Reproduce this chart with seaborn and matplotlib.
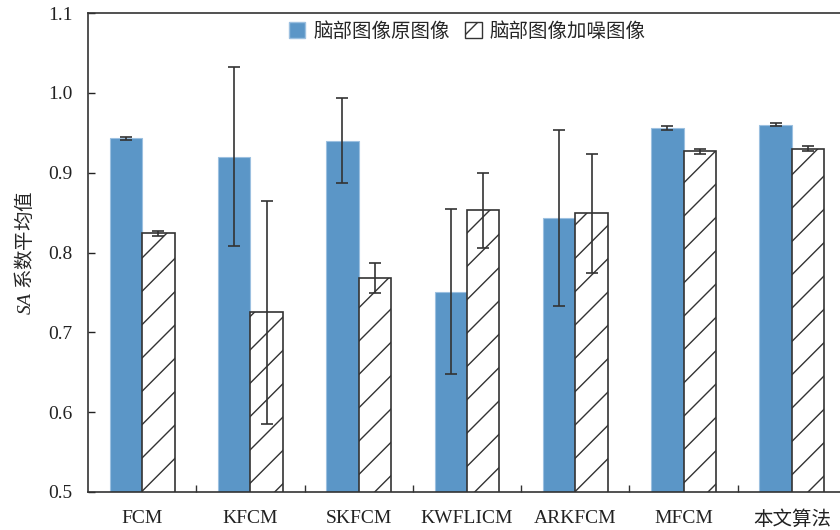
import matplotlib
matplotlib.use("Agg")
import matplotlib.pyplot as plt
import seaborn as sns
import pandas as pd
import numpy as np

# Segmentation accuracy (SA) on brain images, original vs. noisy
methods = ["FCM", "KFCM", "SKFCM", "KWFLICM", "ARKFCM", "MFCM", "本文算法"]
series_names = ["脑部图像原图像", "脑部图像加噪图像"]
sa_original = [0.943, 0.920, 0.940, 0.751, 0.843, 0.956, 0.960]
sa_original_err = [0.002, 0.112, 0.053, 0.103, 0.110, 0.002, 0.002]
sa_noisy = [0.824, 0.725, 0.768, 0.853, 0.849, 0.927, 0.930]
sa_noisy_err = [0.003, 0.140, 0.019, 0.047, 0.075, 0.003, 0.003]
y_ticks = [0.5, 0.6, 0.7, 0.8, 0.9, 1.0, 1.1]

sns.set_theme(style="white")
plt.rcParams["font.family"] = ["Liberation Serif", "Noto Sans CJK SC"]
plt.rcParams["mathtext.fontset"] = "custom"
plt.rcParams["mathtext.it"] = "Liberation Serif:italic"
plt.rcParams["mathtext.rm"] = "Liberation Serif"
plt.rcParams["hatch.linewidth"] = 1.0

df = pd.DataFrame({
    "method": methods * 2,
    "series": [series_names[0]] * len(methods) + [series_names[1]] * len(methods),
    "sa": sa_original + sa_noisy,
    "err": sa_original_err + sa_noisy_err,
})

fig = plt.figure(figsize=(8.4, 5.3), dpi=100)
# the plotting area runs a little past the right edge of the canvas
ax = fig.add_axes([88 / 840, 38 / 530, 758 / 840, 479 / 530])

blue = "#5b96c7"
sns.barplot(data=df, x="method", y="sa", hue="series", order=methods,
            hue_order=series_names, palette=[blue, "white"], width=0.6,
            errorbar=None, ax=ax, legend=True)

n = len(methods)
for i, bar in enumerate(ax.patches[: 2 * n]):
    if i < n:
        bar.set_facecolor(blue)
        bar.set_edgecolor("#9cc0e0")
        bar.set_linewidth(0.8)
    else:
        bar.set_facecolor("white")
        bar.set_edgecolor("#333333")
        bar.set_linewidth(1.2)
        bar.set_hatch("/")

# error bars placed at each bar's centre
for i, bar in enumerate(ax.patches[: 2 * n]):
    err = df["err"].iloc[i]
    xc = bar.get_x() + bar.get_width() / 2
    ax.errorbar(xc, bar.get_height(), yerr=err, fmt="none",
                ecolor="#333333", elinewidth=1.2, capsize=4.5, capthick=1.2)

ax.set_ylim(0.5, 1.1)
ax.set_xlim(-0.5, n - 0.5)
ax.set_yticks(y_ticks)
ax.set_yticklabels([f"{v:.1f}" for v in y_ticks], fontsize=14)
ax.set_xticks(range(n))
ax.set_xticklabels(methods, fontsize=14)
ax.set_xticks(np.arange(0.5, n - 0.5, 1.0), minor=True)
ax.tick_params(axis="x", which="major", length=0, pad=13)
ax.tick_params(axis="x", which="minor", direction="in", length=5,
               width=1, color="#333333", bottom=True)
ax.tick_params(axis="y", which="major", direction="in", length=5,
               width=1, color="#333333", left=True, pad=11)
for side in ["left", "bottom", "top", "right"]:
    ax.spines[side].set_color("#333333")
    ax.spines[side].set_linewidth(1.2)

ax.set_xlabel("")
ax.set_ylabel(r"$\mathit{SA}$ 系数平均值", fontsize=14,
              family="Noto Sans CJK SC", labelpad=9)
ax.tick_params(axis="both", colors="#222222", labelcolor="#222222")

handles, labels = ax.get_legend_handles_labels()
handles[0].set_facecolor(blue)
handles[0].set_edgecolor("#9cc0e0")
handles[1].set_facecolor("white")
handles[1].set_edgecolor("#333333")
handles[1].set_hatch("/")
ax.legend(handles, labels, loc="center", bbox_to_anchor=(0.5, 0.962),
          ncol=2, frameon=False, handlelength=0.85, handleheight=0.85,
          handletextpad=0.4, columnspacing=0.8,
          prop={"family": "Noto Sans CJK SC", "size": 14})

fig.savefig("out.png", dpi=100)
